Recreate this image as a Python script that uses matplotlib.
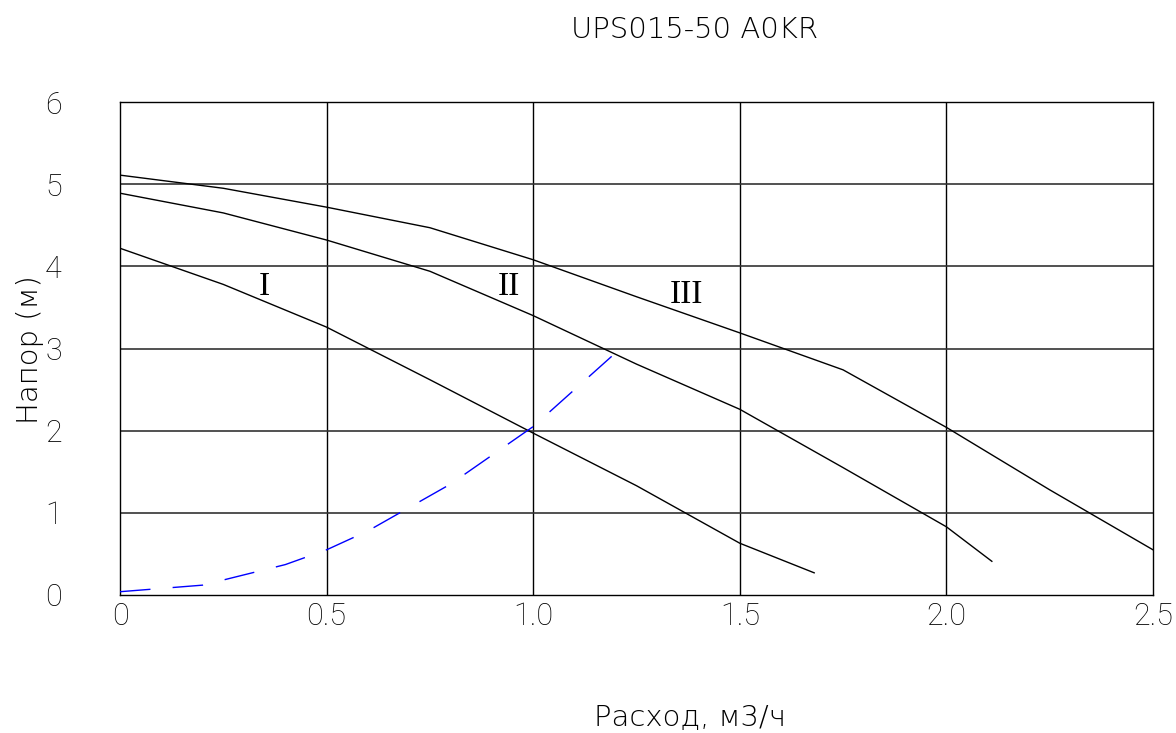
import matplotlib
matplotlib.use("Agg")
import matplotlib.pyplot as plt

# Data
x_I = [0.0, 0.25, 0.5, 0.75, 1.0, 1.25, 1.5, 1.68]
y_I = [4.22, 3.78, 3.26, 2.62, 1.97, 1.33, 0.63, 0.27]
x_II = [0.0, 0.25, 0.5, 0.75, 1.0, 1.25, 1.5, 1.75, 2.0, 2.11]
y_II = [4.89, 4.65, 4.32, 3.94, 3.40, 2.81, 2.26, 1.55, 0.83, 0.41]
x_III = [0.0, 0.25, 0.5, 0.75, 1.0, 1.25, 1.5, 1.75, 2.0, 2.25, 2.5]
y_III = [5.11, 4.95, 4.72, 4.47, 4.08, 3.63, 3.19, 2.74, 2.04, 1.28, 0.55]
x_sys = [0.0, 0.2, 0.4, 0.5, 0.6, 0.8, 1.0, 1.2]
y_sys = [0.04, 0.12, 0.37, 0.55, 0.78, 1.35, 2.05, 2.95]

x_ticks = [0, 0.5, 1.0, 1.5, 2.0, 2.5]
x_tick_labels = ["0", "0.5", "1.0", "1.5", "2.0", "2.5"]
y_ticks = [0, 1, 2, 3, 4, 5, 6]
y_tick_labels = ["0", "1", "2", "3", "4", "5", "6"]

curve_labels = ["I", "II", "III"]
label_pos = [(0.35, 3.75), (0.94, 3.75), (1.37, 3.65)]

title = "UPS015-50 A0KR"
xlabel = "Расход, м3/ч"
ylabel = "Напор (м)"

FONT = ["Roboto", "DejaVu Sans"]
WIDE = ["DejaVu Sans"]

fig = plt.figure(figsize=(11.76, 7.33), dpi=100)
ax = fig.add_axes([120/1176, 138/733, (1153-120)/1176, (595-102)/733])

ax.set_xlim(0, 2.5)
ax.set_ylim(0, 6)

for xv in x_ticks[1:-1]:
    ax.axvline(xv, color="black", lw=1.0, zorder=1)
for yv in y_ticks[1:-1]:
    ax.axhline(yv, color="#333333", lw=1.2, zorder=1)

ax.plot(x_I, y_I, color="black", lw=1.0, zorder=3)
ax.plot(x_II, y_II, color="black", lw=1.0, zorder=3)
ax.plot(x_III, y_III, color="black", lw=1.0, zorder=3)
line, = ax.plot(x_sys, y_sys, color="#0000ff", lw=1.0, zorder=4)
line.set_dashes([22, 16])

for lab, (lx, ly) in zip(curve_labels, label_pos):
    ax.text(lx, ly, lab, family="Liberation Serif", fontsize=24,
            ha="center", va="center", zorder=5)

ax.set_xticks(x_ticks)
ax.set_xticklabels(x_tick_labels, family=FONT, fontweight="light", fontsize=22)
ax.set_yticks(y_ticks)
ax.set_yticklabels(y_tick_labels, family=FONT, fontweight="light", fontsize=22)
ax.tick_params(axis="x", length=0, pad=5)
ax.tick_params(axis="y", length=0, pad=42)
for s in ax.spines.values():
    s.set_linewidth(1.0)

fig.text(695/1176, 1 - 30/733, title, family=WIDE, fontweight="light",
         fontsize=21, ha="center", va="center")
fig.text(690/1176, 1 - 718/733, xlabel, family=WIDE, fontweight="light",
         fontsize=21, ha="center", va="center")
fig.text(30/1176, 1 - 350/733, ylabel, family=WIDE, fontweight="light",
         fontsize=21, ha="center", va="center", rotation=90)

fig.savefig("out.png", dpi=100)
